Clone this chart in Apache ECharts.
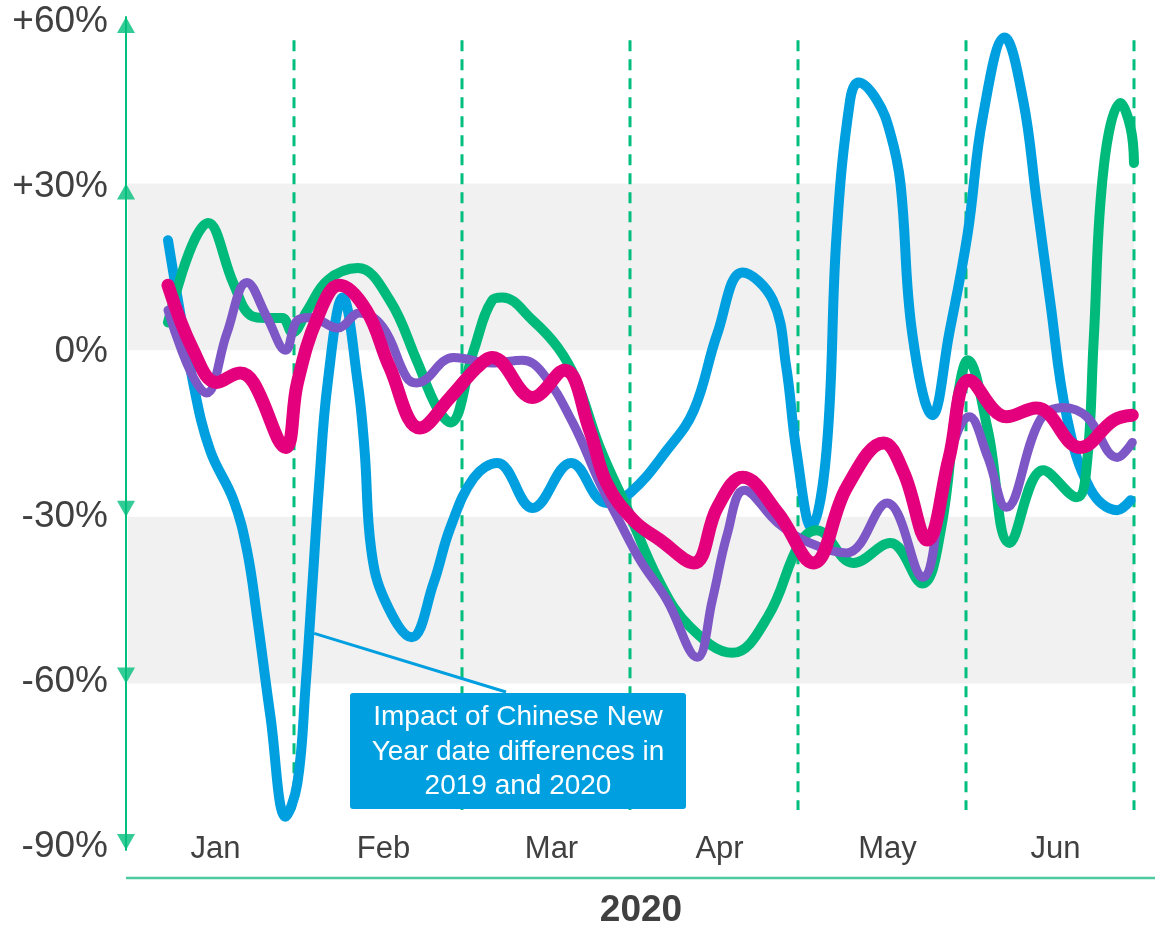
<!DOCTYPE html>
<html>
<head>
<meta charset="utf-8">
<script src="https://cdn.jsdelivr.net/npm/echarts@6/dist/echarts.min.js"></script>
<style>
html,body{margin:0;padding:0;background:#fff;}
#c{width:1155px;height:925px;}
</style>
</head>
<body>
<div id="c"></div>
<script>
// x = months since Jan 1 2020, y = % change
const months = ['Jan','Feb','Mar','Apr','May','Jun'];
const monthBounds = [1,2,3,4,5,6];
const yTicks = [-90,-60,-30,0,30,60];
const upArrows = [60,30];
const downArrows = [-30,-60,-90];
const bandRanges = [[0,30],[-60,-30]];
const dashTop = 55.8, dashBottom = -82.8;

const blue = [[0.25,19.8],[0.40,-5.9],[0.50,-18],[0.64,-27],[0.72,-36],[0.78,-48],[0.86,-66],[0.95,-84],[1.02,-78],[1.07,-60],[1.11,-42],[1.15,-24],[1.20,-6],[1.29,9.5],[1.38,-6],[1.42,-18],[1.46,-36],[1.54,-45],[1.70,-51.7],[1.83,-42],[1.93,-32],[2.07,-23],[2.21,-20.3],[2.42,-28.4],[2.65,-20.3],[2.86,-27.5],[3.0,-25.7],[3.22,-18],[3.38,-10.8],[3.52,3],[3.67,14],[3.85,9],[3.93,-3],[3.99,-18],[4.08,-31.9],[4.17,-18],[4.23,21],[4.31,45],[4.36,48.2],[4.47,45],[4.55,39],[4.61,30],[4.68,3],[4.80,-11.7],[4.90,3],[5.01,21],[5.10,42],[5.23,56.3],[5.34,45],[5.42,27],[5.50,9],[5.60,-12],[5.74,-25],[5.90,-28.8],[5.98,-27]];

const green = [[0.25,5],[0.49,22.9],[0.64,12],[0.74,6.3],[0.83,5.8],[0.93,5.8],[0.99,3.2],[1.08,7.2],[1.20,12.6],[1.38,14.8],[1.57,9],[1.73,-1.8],[1.85,-10.3],[1.93,-13],[2.07,0],[2.18,9],[2.24,9.5],[2.42,5.4],[2.57,0.5],[2.68,-5.4],[2.82,-17.5],[2.98,-28.3],[3.18,-42],[3.36,-49.9],[3.61,-54.5],[3.82,-48],[4.01,-34.7],[4.11,-32.4],[4.33,-38.3],[4.55,-34.7],[4.74,-42],[4.85,-32.4],[4.95,-8.5],[5.01,-1.8],[5.13,-14.4],[5.26,-34.7],[5.46,-21.6],[5.66,-26.5],[5.72,-20.3],[5.76,1.8],[5.82,33],[5.92,44.5],[5.98,40],[6.0,33.7]];

const purple = [[0.25,7.2],[0.48,-7.7],[0.60,3],[0.72,12.2],[0.84,5.9],[0.95,0],[1.02,5.4],[1.10,5.9],[1.26,4],[1.39,6.7],[1.53,4.1],[1.67,-4.9],[1.73,-5.9],[1.95,-1.3],[2.18,-2.3],[2.36,-1.8],[2.48,-4.1],[2.66,-13.1],[2.82,-23.9],[2.94,-31],[3.06,-37.8],[3.22,-45],[3.40,-55.3],[3.49,-45],[3.58,-33],[3.68,-25.2],[3.88,-31.1],[4.07,-34.7],[4.29,-36.5],[4.53,-27.5],[4.74,-40.9],[4.89,-20.3],[5.02,-12],[5.13,-19.3],[5.24,-28.3],[5.44,-12.6],[5.58,-10.3],[5.72,-12],[5.90,-19.3],[5.99,-16.6]];

const pink = [[0.25,11.7],[0.40,0],[0.54,-5.8],[0.68,-4.1],[0.76,-5.9],[0.95,-17.5],[1.02,-5.9],[1.14,5.9],[1.27,11.7],[1.43,7.2],[1.57,-3.1],[1.75,-14],[1.93,-8.5],[2.09,-3.1],[2.18,-1.3],[2.42,-8.5],[2.61,-3.6],[2.76,-14.4],[2.86,-23.9],[3.02,-30.6],[3.18,-34.2],[3.38,-38.3],[3.52,-28.3],[3.67,-22.9],[3.88,-29.3],[4.09,-38.3],[4.29,-24.7],[4.51,-16.7],[4.63,-22.1],[4.77,-34.2],[4.90,-19.3],[5.02,-5.4],[5.24,-12],[5.42,-10.4],[5.68,-17.5],[5.88,-12.6],[5.99,-11.7]];

const annotationText = 'Impact of Chinese New\nYear date differences in\n2019 and 2020';
const annotationAnchor = [1.12, -51];
const yearLabel = '2020';

const GREEN = '#00BE7C';
const FONT = '"Liberation Sans", Arial, sans-serif';
const chart = echarts.init(document.getElementById('c'), null, {renderer:'canvas'});

function lineSeries(name, data, color, width, z){
  return {name, type:'line', data, smooth:0.4, showSymbol:false, symbol:'none', z,
    lineStyle:{color, width, cap:'round', join:'round'}, emphasis:{disabled:true}};
}

const series = [];
series.push({type:'line', data:[], markArea:{silent:true, itemStyle:{color:'#F1F1F1'},
  data: bandRanges.map(r=>[{yAxis:r[0], x:128},{yAxis:r[1]}])}, z:1});
monthBounds.forEach(m=>{
  series.push({type:'line', data:[[m,dashTop],[m,dashBottom]], showSymbol:false, symbol:'none', clip:false, z:2,
    lineStyle:{color:GREEN, width:3, type:[11,8]}, emphasis:{disabled:true}});
});
series.push(lineSeries('blue', blue, '#009FE0', 10, 3));
series.push(lineSeries('green', green, '#00BA7C', 10, 4));
series.push(lineSeries('purple', purple, '#7E57C6', 9, 5));
series.push(lineSeries('pink', pink, '#E4007C', 13, 6));
series.push({type:'scatter', data: upArrows.map(v=>[0,v]), symbol:'triangle', symbolSize:[18,16],
  symbolOffset:[0,'50%'], clip:false, itemStyle:{color:GREEN}, z:30, zlevel:0, silent:true});
series.push({type:'scatter', data: downArrows.map(v=>[0,v]), symbol:'triangle', symbolSize:[18,16],
  symbolRotate:180, symbolOffset:[0,'-50%'], clip:false, itemStyle:{color:GREEN}, z:30, zlevel:0, silent:true});

chart.setOption({
  animation:false,
  backgroundColor:'#fff',
  grid:{left:126, right:21, top:17, bottom:75, containLabel:false},
  xAxis:{type:'value', min:0, max:6, interval:0.5,
    axisLine:{show:false}, axisTick:{show:false}, splitLine:{show:false},
    axisLabel:{fontFamily:FONT, fontSize:31, color:'#404040', padding:[0,0,0,11],
      verticalAlign:'middle', margin:-1, showMinLabel:false, showMaxLabel:false,
      formatter:v=>{ const i=Math.floor(v); return (Math.abs(v-i-0.5)<1e-6 && months[i]) ? months[i] : ''; }}},
  yAxis:[
    {type:'value', min:-90, max:60, interval:30, z:10,
      axisLine:{show:true, lineStyle:{color:GREEN, width:2}}, axisTick:{show:false}, splitLine:{show:false},
      axisLabel:{show:false}},
    {type:'value', position:'left', min:-90.55, max:60.9, z:10,
      axisLine:{show:false}, axisTick:{show:false}, splitLine:{show:false},
      axisLabel:{fontFamily:FONT, fontSize:37, color:'#404040', margin:18, customValues:yTicks,
        padding:[5,0,0,0], showMinLabel:true, showMaxLabel:true,
        formatter:v=> v>0 ? '+'+Math.round(v)+'%' : Math.round(v)+'%'}}
  ],
  series
});

const a = chart.convertToPixel({gridIndex:0}, annotationAnchor);
chart.setOption({graphic:[
  {type:'line', shape:{x1:a[0], y1:a[1], x2:506, y2:692}, style:{stroke:'#009FE0', lineWidth:3}, z:20},
  {type:'rect', shape:{x:350, y:693, width:336, height:116, r:3}, style:{fill:'#009FE0'}, z:21},
  {type:'text', x:518, y:752, style:{text:annotationText, fill:'#fff', font:'28px ' + FONT,
    align:'center', verticalAlign:'middle', lineHeight:34.5}, z:22},
  {type:'line', shape:{x1:126, y1:878, x2:1155, y2:878}, style:{stroke:'#4DCB9E', lineWidth:2.5}, z:20},
  {type:'text', x:641, y:911, style:{text:yearLabel, fill:'#404040', font:'bold 37px ' + FONT,
    align:'center', verticalAlign:'middle'}, z:20}
]});
</script>
</body>
</html>
